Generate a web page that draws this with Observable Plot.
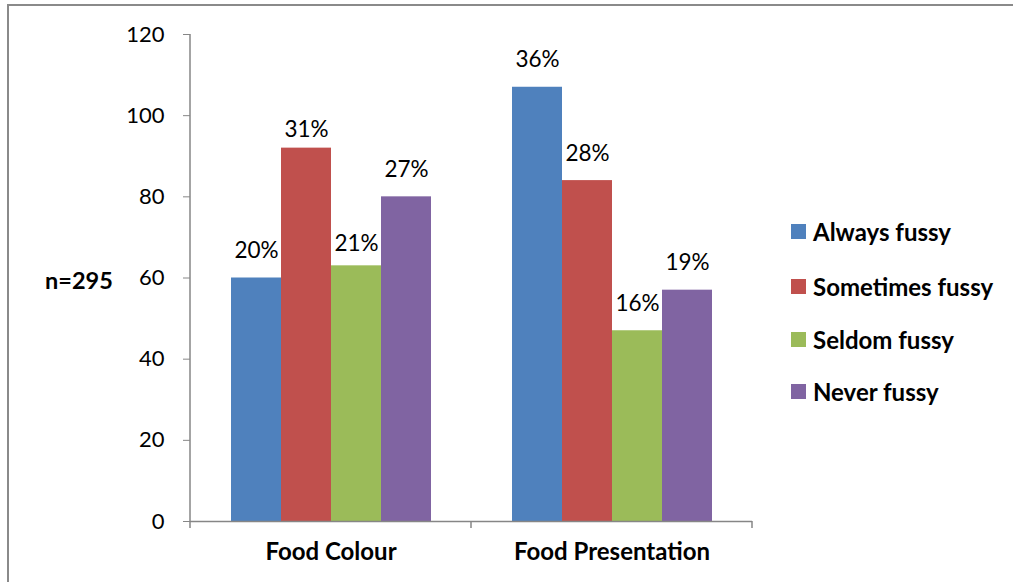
<!DOCTYPE html>
<html>
<head>
<meta charset="utf-8">
<script src="https://cdn.jsdelivr.net/npm/d3@7"></script>
<script src="https://cdn.jsdelivr.net/npm/@observablehq/plot@0.6"></script>
<style>
  html, body { margin: 0; padding: 0; background: #fff; }
  #wrap { position: relative; width: 1013px; height: 582px; overflow: hidden; font-family: Lato, "Open Sans", sans-serif; }
  #border { position: absolute; left: 7px; top: 4px; width: 2000px; height: 2000px; border-top: 2px solid #8a8a8a; border-left: 2px solid #8a8a8a; }
  #chart { position: absolute; left: 0; top: 0; }
  #nlabel { position: absolute; left: 45px; top: 267px; font-weight: bold; font-size: 23.5px; line-height: 26px; color: #000; }
  .leg { position: absolute; left: 791px; display: flex; align-items: center; font-weight: bold; font-size: 24px; color: #000; }
  .leg .sw { width: 15px; height: 15px; margin-right: 7px; }
</style>
</head>
<body>
<div id="wrap">
  <div id="border"></div>
  <div id="chart"></div>
  <div id="nlabel"></div>
</div>
<script>
const categories = ["Food Colour", "Food Presentation"];
const series = ["Always fussy", "Sometimes fussy", "Seldom fussy", "Never fussy"];
const colourValues = [60, 92, 63, 80];
const presentationValues = [107, 84, 47, 57];
const colourPct = ["20%", "31%", "21%", "27%"];
const presentationPct = ["36%", "28%", "16%", "19%"];
const seriesColors = ["#4F81BD", "#C0504D", "#9BBB59", "#8064A2"];
const yTicks = [0, 20, 40, 60, 80, 100, 120];
const sampleLabel = "n=295";

const valuesByCat = [colourValues, presentationValues];
const pctByCat = [colourPct, presentationPct];
const data = [];
categories.forEach((c, i) => series.forEach((s, j) => data.push({category: c, series: s, value: valuesByCat[i][j], pct: pctByCat[i][j]})));

// label placement (style): most labels sit well above their bar; two are nudged lower as in the original
const defaultLift = 27;
const liftFor = d => (d.category === "Food Colour" && d.series === "Sometimes fussy") ? 18
  : (d.category === "Food Colour" && d.series === "Seldom fussy") ? 22 : defaultLift;
const lifts = [...new Set(data.map(liftFor))];

const axisGray = "#868686";
const W = 1013, H = 582;
const mL = 190, mR = 261, mT = 34, mB = 61;

const plot = Plot.plot({
  width: W, height: H,
  marginLeft: mL, marginRight: mR, marginTop: mT, marginBottom: mB,
  style: {fontFamily: "Lato, 'Open Sans', sans-serif", fontSize: "22px", color: "#000", background: "transparent"},
  fx: {domain: categories, paddingInner: 0, paddingOuter: 0, axis: null},
  x: {domain: series, paddingInner: 0, paddingOuter: 0.755, axis: null},
  y: {domain: [0, 120], axis: null},
  color: {domain: series, range: seriesColors},
  marks: [
    Plot.barY(data, {fx: "category", x: "series", y: "value", fill: "series"}),
    ...lifts.map(l => Plot.text(data.filter(d => liftFor(d) === l), {fx: "category", x: "series", y: "value", text: "pct", lineAnchor: "middle", dy: -l, fontSize: 22.5, fill: "#000"})),
    Plot.ruleY([0], {stroke: axisGray, strokeWidth: 1.5}),
    Plot.axisY({ticks: yTicks, tickSize: 7, tickPadding: 19, stroke: axisGray, fill: "#000", fontSize: 22, label: null}),
    Plot.axisFx({anchor: "bottom", tickSize: 0, tickPadding: 21, fontSize: 24, fontWeight: "bold", fill: "#000", label: null})
  ]
});

document.getElementById("chart").appendChild(plot);

// axis line on the left and category-boundary ticks, from the plot's scales
const y = plot.scale("y");
const fx = plot.scale("fx");
const svg = d3.select(plot);
const g = svg.append("g").attr("stroke", axisGray).attr("stroke-width", 1.5);
g.append("line").attr("x1", mL).attr("x2", mL).attr("y1", y.apply(120)).attr("y2", y.apply(0));
const bounds = [];
categories.forEach((c, i) => { const x0 = fx.apply(c); if (i === 0) bounds.push(x0); bounds.push(x0 + fx.bandwidth); });
bounds.forEach(bx => g.append("line").attr("x1", bx).attr("x2", bx).attr("y1", y.apply(0)).attr("y2", y.apply(0) + 7));

document.getElementById("nlabel").textContent = sampleLabel;

const legTops = [231.5, 286, 339, 391.5];
const wrap = document.getElementById("wrap");
series.forEach((s, i) => {
  const d = document.createElement("div");
  d.className = "leg";
  d.style.top = (legTops[i] - 14) + "px";
  d.style.height = "28px";
  d.innerHTML = `<span class="sw" style="background:${seriesColors[i]}"></span><span>${s}</span>`;
  wrap.appendChild(d);
});
</script>
</body>
</html>
